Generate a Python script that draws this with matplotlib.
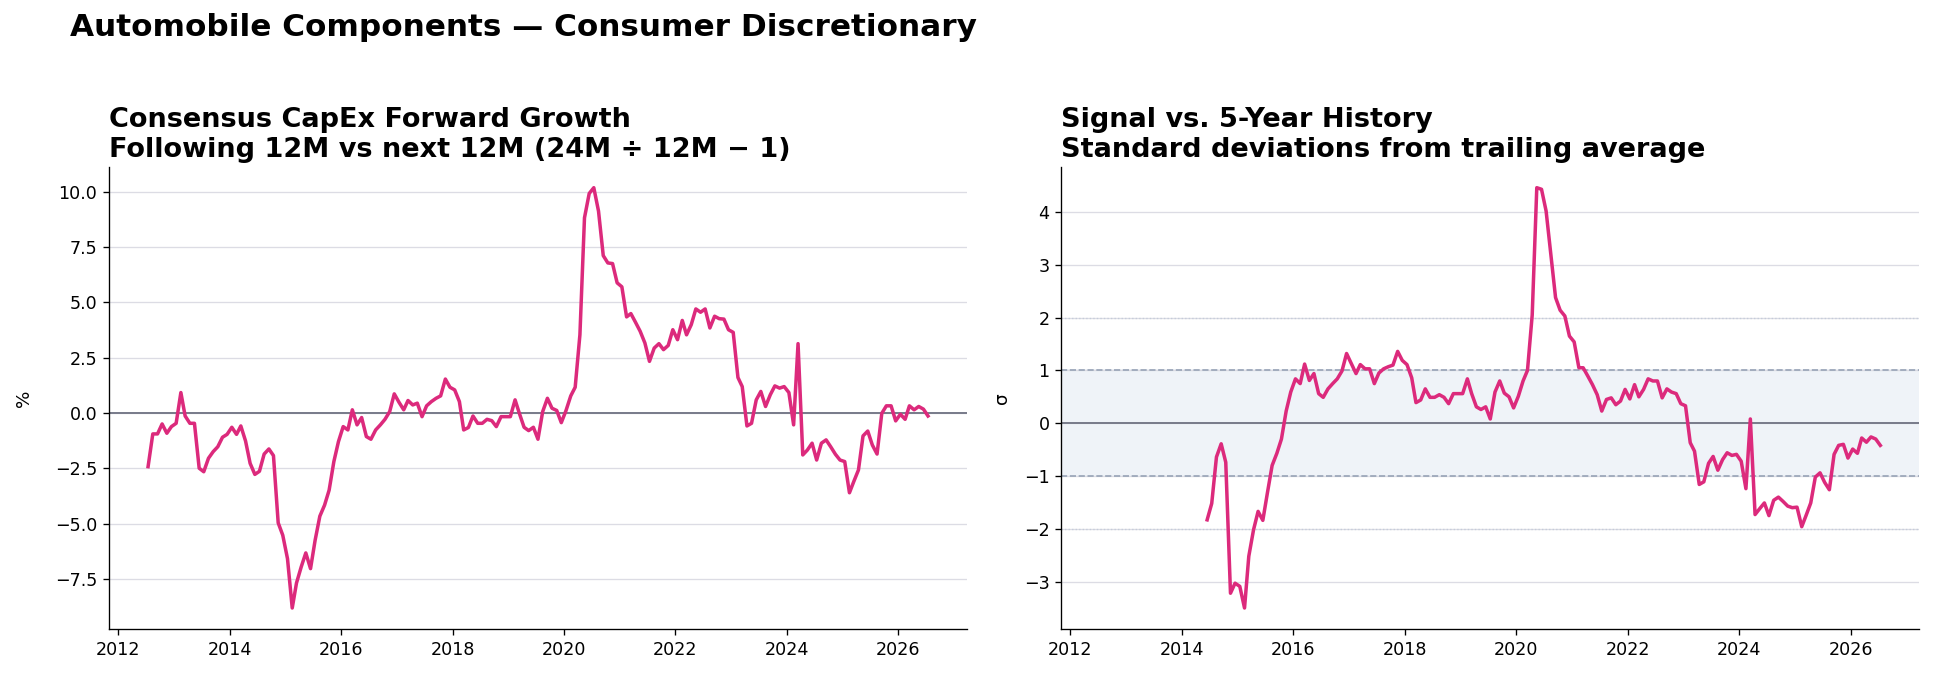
import matplotlib
matplotlib.use("Agg")
import matplotlib.pyplot as plt
import numpy as np
import pandas as pd

# monthly data, left panel starts 2012-07, right panel starts 2014-06, both end 2026-07
growth_start = "2012-07-01"
growth = [
    -2.43, -0.95, -0.95, -0.50, -0.92, -0.62, -0.47, 0.92, -0.14, -0.47,
    -0.47, -2.50, -2.66, -2.05, -1.75, -1.53, -1.10, -0.97, -0.65, -0.97,
    -0.59, -1.27, -2.28, -2.78, -2.64, -1.86, -1.63, -1.93, -4.97, -5.53,
    -6.59, -8.82, -7.69, -6.96, -6.33, -7.04, -5.76, -4.67, -4.17, -3.49,
    -2.20, -1.30, -0.62, -0.77, 0.14, -0.54, -0.21, -1.07, -1.19, -0.77,
    -0.54, -0.29, 0.06, 0.86, 0.48, 0.14, 0.56, 0.36, 0.44, -0.17,
    0.32, 0.51, 0.66, 0.77, 1.53, 1.16, 1.04, 0.51, -0.77, -0.66,
    -0.14, -0.47, -0.47, -0.29, -0.35, -0.62, -0.17, -0.17, -0.17, 0.59,
    -0.02, -0.65, -0.80, -0.65, -1.19, 0.06, 0.66, 0.21, 0.11, -0.44,
    0.11, 0.77, 1.16, 3.53, 8.82, 9.92, 10.18, 9.12, 7.11, 6.78,
    6.75, 5.88, 5.70, 4.34, 4.49, 4.09, 3.69, 3.16, 2.33, 2.93,
    3.13, 2.86, 3.05, 3.76, 3.31, 4.18, 3.53, 3.99, 4.70, 4.55,
    4.70, 3.84, 4.37, 4.26, 4.24, 3.76, 3.64, 1.60, 1.19, -0.59,
    -0.47, 0.59, 0.97, 0.29, 0.82, 1.22, 1.12, 1.19, 0.92, -0.54,
    3.13, -1.90, -1.68, -1.37, -2.13, -1.37, -1.22, -1.53, -1.87, -2.13,
    -2.20, -3.61, -3.11, -2.58, -1.04, -0.82, -1.45, -1.86, -0.02, 0.32,
    0.32, -0.36, -0.06, -0.29, 0.32, 0.14, 0.29, 0.17, -0.14,
]

zscore_start = "2014-06-01"
zscore = [
    -1.83, -1.52, -0.64, -0.39, -0.74, -3.22, -3.03, -3.09, -3.50, -2.52,
    -2.02, -1.67, -1.84, -1.32, -0.80, -0.57, -0.30, 0.23, 0.59, 0.84,
    0.75, 1.12, 0.81, 0.94, 0.56, 0.49, 0.65, 0.75, 0.84, 0.99,
    1.32, 1.13, 0.94, 1.11, 1.03, 1.03, 0.75, 0.95, 1.03, 1.07,
    1.10, 1.36, 1.19, 1.11, 0.86, 0.39, 0.44, 0.65, 0.49, 0.49,
    0.54, 0.49, 0.37, 0.56, 0.56, 0.56, 0.84, 0.56, 0.31, 0.26,
    0.31, 0.08, 0.59, 0.80, 0.57, 0.50, 0.29, 0.51, 0.80, 1.00,
    2.05, 4.46, 4.43, 4.02, 3.20, 2.38, 2.14, 2.03, 1.65, 1.54,
    1.05, 1.05, 0.89, 0.73, 0.54, 0.23, 0.45, 0.48, 0.35, 0.42,
    0.64, 0.46, 0.73, 0.50, 0.64, 0.84, 0.80, 0.80, 0.48, 0.65,
    0.59, 0.56, 0.37, 0.33, -0.37, -0.53, -1.16, -1.11, -0.76, -0.63,
    -0.89, -0.69, -0.56, -0.61, -0.59, -0.72, -1.24, 0.08, -1.73, -1.62,
    -1.51, -1.75, -1.46, -1.40, -1.48, -1.57, -1.60, -1.59, -1.96, -1.75,
    -1.51, -1.02, -0.94, -1.12, -1.26, -0.59, -0.42, -0.40, -0.66, -0.49,
    -0.57, -0.28, -0.36, -0.26, -0.30, -0.42,
]

suptitle = "Automobile Components \u2014 Consumer Discretionary"
left_title = "Consensus CapEx Forward Growth\nFollowing 12M vs next 12M (24M \u00f7 12M \u2212 1)"
right_title = "Signal vs. 5-Year History\nStandard deviations from trailing average"

pink = "#dc2a7c"

d1 = pd.date_range(growth_start, periods=len(growth), freq="MS") + pd.Timedelta(days=14)
d2 = pd.date_range(zscore_start, periods=len(zscore), freq="MS") + pd.Timedelta(days=14)

fig, (ax1, ax2) = plt.subplots(1, 2, figsize=(1934 / 120, 679 / 120), dpi=120, sharex=True)
fig.subplots_adjust(left=0.0564, right=0.9924, bottom=0.0736, top=0.7545, wspace=0.11)

for ax in (ax1, ax2):
    ax.spines["top"].set_visible(False)
    ax.spines["right"].set_visible(False)
    ax.yaxis.grid(True, color="#dcdce4", lw=0.8)
    ax.set_axisbelow(True)
    ax.tick_params(labelsize=10.5)

ax1.plot(d1, growth, color=pink, lw=2.1, zorder=3)
ax1.axhline(0, color="#7a7d8c", lw=1.2, zorder=2)
ax1.set_ylabel("%", fontsize=11, labelpad=13)
ax1.set_title(left_title, loc="left", fontsize=16.3, fontweight="bold")

ax2.axhspan(-1, 1, color="#eff3f8", zorder=0)
ax2.axhline(1, color="#97a3b6", lw=1, ls="--", zorder=2)
ax2.axhline(-1, color="#97a3b6", lw=1, ls="--", zorder=2)
ax2.axhline(2, color="#c4ccda", lw=0.8, ls=":", zorder=2)
ax2.axhline(-2, color="#c4ccda", lw=0.8, ls=":", zorder=2)
ax2.axhline(0, color="#7a7d8c", lw=1.2, zorder=2)
ax2.plot(d2, zscore, color=pink, lw=2.1, zorder=3)
ax2.set_ylabel("\u03c3", fontsize=11, labelpad=8)
ax2.set_title(right_title, loc="left", fontsize=16.3, fontweight="bold")

fig.text(0.036, 0.96, suptitle, fontsize=18.7, fontweight="bold", va="center", ha="left")

fig.savefig("out.png", dpi=120)
